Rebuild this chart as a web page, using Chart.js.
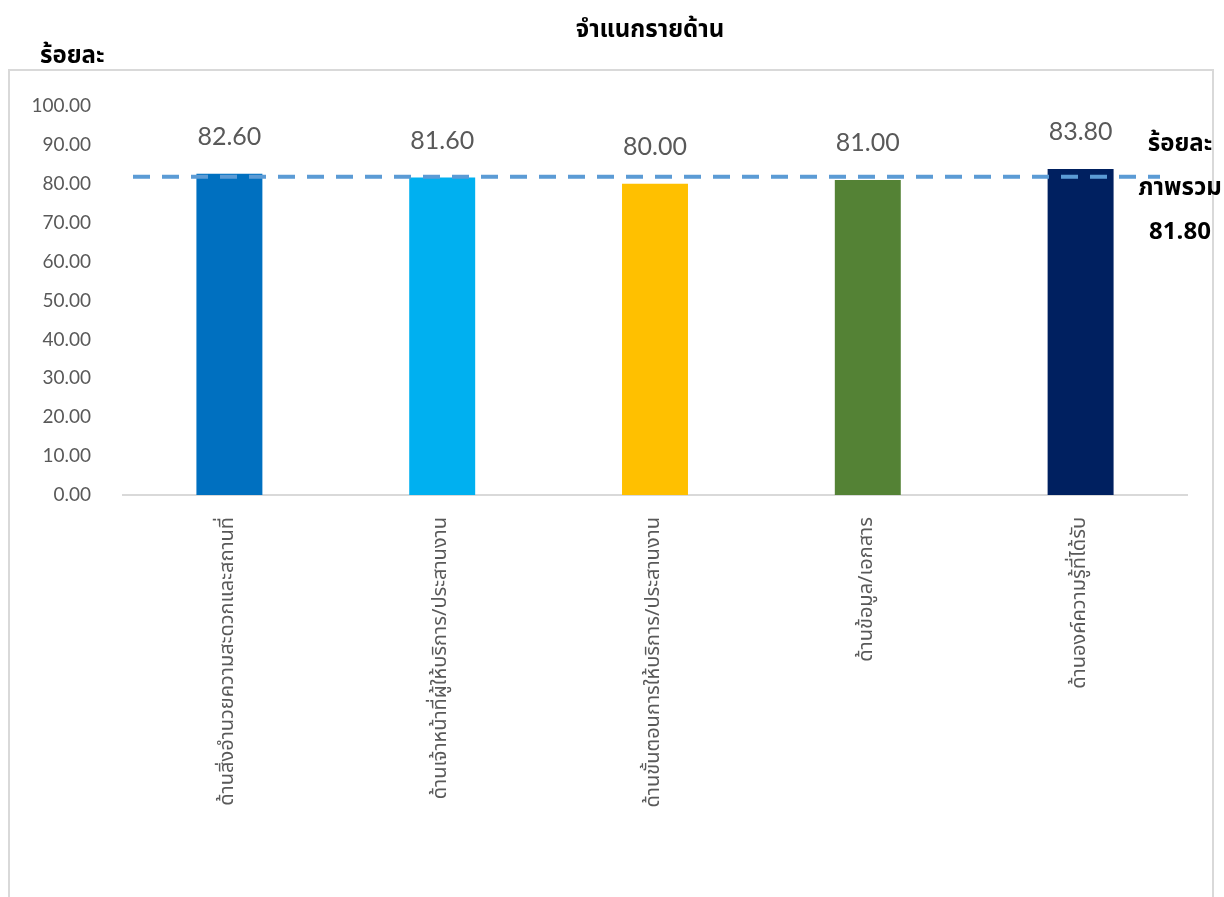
<!DOCTYPE html>
<html>
<head>
<meta charset="utf-8">
<script src="https://cdn.jsdelivr.net/npm/chart.js@4.4.1/dist/chart.umd.min.js"></script>
<style>
  html, body { margin: 0; padding: 0; background: #fff; }
  canvas { display: block; }
</style>
</head>
<body>
<canvas id="myChart" width="1224" height="897"></canvas>
<script>
const categories = [
  'ด้านสิ่งอำนวยความสะดวกและสถานที่',
  'ด้านเจ้าหน้าที่ผู้ให้บริการ/ประสานงาน',
  'ด้านขั้นตอนการให้บริการ/ประสานงาน',
  'ด้านข้อมูล/เอกสาร',
  'ด้านองค์ความรู้ที่ได้รับ',
];
const values = [82.6, 81.6, 80.0, 81.0, 83.8];
const barColors = ['#0070C0', '#00B0F0', '#FFC000', '#548235', '#002060'];
const overall = 81.8;
const overallLines = ['ร้อยละ', 'ภาพรวม', overall.toFixed(2)];
const yTicks = [0, 10, 20, 30, 40, 50, 60, 70, 80, 90, 100];

const FONT = "Lato, 'Noto Sans', 'Noto Sans Thai', sans-serif";
const THAI = "'Noto Sans Thai', 'Noto Sans', Lato, sans-serif";

// frame, titles, value labels and the overall dashed line
const decorations = {
  id: 'decorations',
  beforeDraw(chart) {
    const { ctx } = chart;
    ctx.save();
    ctx.strokeStyle = '#D9D9D9';
    ctx.lineWidth = 2;
    ctx.strokeRect(9, 70, 1204, 840);
    ctx.restore();
  },
  afterDatasetsDraw(chart) {
    const { ctx, chartArea, scales } = chart;
    ctx.save();

    // overall average line
    const y = scales.y.getPixelForValue(overall);
    ctx.strokeStyle = '#5B9BD5';
    ctx.lineWidth = 4;
    ctx.setLineDash([17, 12]);
    ctx.beginPath();
    ctx.moveTo(chartArea.left + 10, y);
    ctx.lineTo(chartArea.right - 27, y);
    ctx.stroke();
    ctx.setLineDash([]);

    // value labels above bars
    const meta = chart.getDatasetMeta(0);
    ctx.fillStyle = '#595959';
    ctx.font = '25px ' + FONT;
    ctx.textAlign = 'center';
    ctx.textBaseline = 'middle';
    meta.data.forEach((bar, i) => {
      ctx.fillText(values[i].toFixed(2), bar.x, bar.y - 37);
    });

    // titles
    ctx.fillStyle = '#000';
    ctx.font = 'bold 24px ' + THAI;
    ctx.fillText('จำแนกรายด้าน', 650, 32);
    ctx.textAlign = 'left';
    ctx.fillText('ร้อยละ', 40, 58);
    ctx.textAlign = 'center';
    overallLines.forEach((t, i) => {
      ctx.fillText(t, 1180, 146 + i * 44);
    });
    ctx.restore();
  }
};

new Chart(document.getElementById('myChart'), {
  type: 'bar',
  data: {
    labels: categories,
    datasets: [{
      data: values,
      backgroundColor: barColors,
      categoryPercentage: 1,
      barPercentage: 0.31,
    }],
  },
  options: {
    responsive: false,
    animation: false,
    layout: { padding: { top: 106, right: 37, left: 0, bottom: 0 } },
    plugins: {
      legend: { display: false },
      tooltip: { enabled: false },
    },
    scales: {
      x: {
        grid: { display: false },
        border: { display: true, color: '#D9D9D9', width: 2 },
        ticks: {
          color: '#595959',
          font: { family: THAI, size: 20 },
          minRotation: 90,
          maxRotation: 90,
          padding: 14,
          autoSkip: false,
        },
        afterFit(scale) { scale.height = 402; },
      },
      y: {
        min: 0,
        max: 100,
        grid: { display: false, drawTicks: false },
        border: { display: false },
        afterBuildTicks(scale) { scale.ticks = yTicks.map(v => ({ value: v })); },
        ticks: {
          color: '#595959',
          font: { family: FONT, size: 19 },
          padding: 32,
          callback: v => v.toFixed(2),
        },
        afterFit(scale) { scale.width = 123; },
      },
    },
  },
  plugins: [decorations],
});
</script>
</body>
</html>
